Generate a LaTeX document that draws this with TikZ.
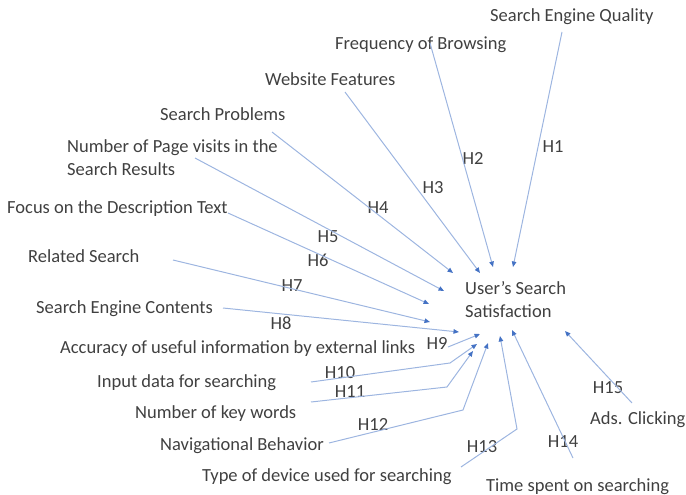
\documentclass[tikz,border=0pt]{standalone}
\usepackage{fontspec}
\setmainfont{Carlito}
\usetikzlibrary{arrows.meta}
\definecolor{txt}{HTML}{404040}
\definecolor{ln}{HTML}{9DB5E0}
\definecolor{tipc}{HTML}{4472C4}
\begin{document}
\begin{tikzpicture}[x=1pt,y=-1pt,
  lbl/.style={font=\fontsize{18.5}{23}\selectfont, text=txt, inner sep=0pt, anchor=base west},
  lbl2/.style={font=\fontsize{18.5}{23}\selectfont, text=txt, inner sep=0pt, anchor=north west, align=left},
  hlab/.style={font=\fontsize{18.5}{23}\selectfont, text=txt, inner sep=0pt},
  conn/.style={draw=ln, line width=1pt, -{Triangle[length=5.5pt,width=4.5pt,color=tipc]}}]
\useasboundingbox (0,0) rectangle (686,495);

% factor texts
\node[lbl] (sq)  at (490,22)  {Search Engine Quality};
\node[lbl] (fb)  at (335,50)  {Frequency of Browsing};
\node[lbl] (wf)  at (265,85)  {Website Features};
\node[lbl] (sp)  at (160,121) {Search Problems};
\node[lbl2] (np) at (67,139)  {Number of Page visits in the\\Search Results};
\node[lbl] (fd)  at (7,213)   {Focus on the Description Text};
\node[lbl] (rs)  at (28,262)  {Related Search};
\node[lbl] (sc)  at (36,313)  {Search Engine Contents};
\node[lbl] (ac)  at (60,353)  {Accuracy of useful information by external links};
\node[lbl] (id)  at (97,387)  {Input data for searching};
\node[lbl] (nk)  at (135,418) {Number of key words};
\node[lbl] (nb)  at (160,450) {Navigational Behavior};
\node[lbl] (td)  at (202,481) {Type of device used for searching};
\node[lbl] (ts)  at (486,491) {Time spent on searching};
\node[lbl] (ad)  at (590,424) {Ads. Clicking};
\node[lbl2] (us) at (465,281) {User’s Search\\Satisfaction};

% hypothesis labels
\node[hlab] (h1)  at (553,147) {H1};
\node[hlab] (h2)  at (473,158) {H2};
\node[hlab] (h3)  at (433,188) {H3};
\node[hlab] (h4)  at (378,208) {H4};
\node[hlab] (h5)  at (328,237) {H5};
\node[hlab] (h6)  at (318,260) {H6};
\node[hlab] (h7)  at (292,286) {H7};
\node[hlab] (h8)  at (281,323) {H8};
\node[hlab] (h9)  at (437,343) {H9};
\node[hlab] (h10) at (340,373) {H10};
\node[hlab] (h11) at (350,392) {H11};
\node[hlab] (h12) at (373,424) {H12};
\node[hlab] (h13) at (482,447) {H13};
\node[hlab] (h14) at (563,442) {H14};
\node[hlab] (h15) at (608,388) {H15};

% connector start points
\coordinate (s1)  at (562,32);
\coordinate (s2)  at (430,43);
\coordinate (s3)  at (345,92);
\coordinate (s4)  at (272,132);
\coordinate (s5)  at (195,158);
\coordinate (s6)  at (228,213);
\coordinate (s7)  at (173,260);
\coordinate (s8)  at (223,308);
\coordinate (s9)  at (448,347);
\coordinate (s10) at (311,382);
\coordinate (s11) at (311,402);
\coordinate (s12) at (329,443);
\coordinate (s13) at (461,467);
\coordinate (s14) at (573,458);
\coordinate (s15) at (632,403);
% bends
\coordinate (b10) at (450,363);
\coordinate (b11) at (447,387);
\coordinate (b12) at (463,410);
\coordinate (b13) at (517,429);
% arrow tips around the outcome
\coordinate (t1)  at (513,267);
\coordinate (t2)  at (493,267);
\coordinate (t3)  at (480,273);
\coordinate (t4)  at (453,273);
\coordinate (t5)  at (444,291);
\coordinate (t6)  at (429,304);
\coordinate (t7)  at (430,322);
\coordinate (t8)  at (459,332);
\coordinate (t9)  at (480,334);
\coordinate (t10) at (477,344);
\coordinate (t11) at (473,351);
\coordinate (t12) at (488,343);
\coordinate (t13) at (500,336);
\coordinate (t14) at (512,330);
\coordinate (t15) at (565,331);

\draw[conn] (s1) -- (t1);
\draw[conn] (s2) -- (t2);
\draw[conn] (s3) -- (t3);
\draw[conn] (s4) -- (t4);
\draw[conn] (s5) -- (t5);
\draw[conn] (s6) -- (t6);
\draw[conn] (s7) -- (t7);
\draw[conn] (s8) -- (t8);
\draw[conn] (s9) -- (t9);
\draw[conn] (s10) -- (b10) -- (t10);
\draw[conn] (s11) -- (b11) -- (t11);
\draw[conn] (s12) -- (b12) -- (t12);
\draw[conn] (s13) -- (b13) -- (t13);
\draw[conn] (s14) -- (t14);
\draw[conn] (s15) -- (t15);
\end{tikzpicture}
\end{document}
